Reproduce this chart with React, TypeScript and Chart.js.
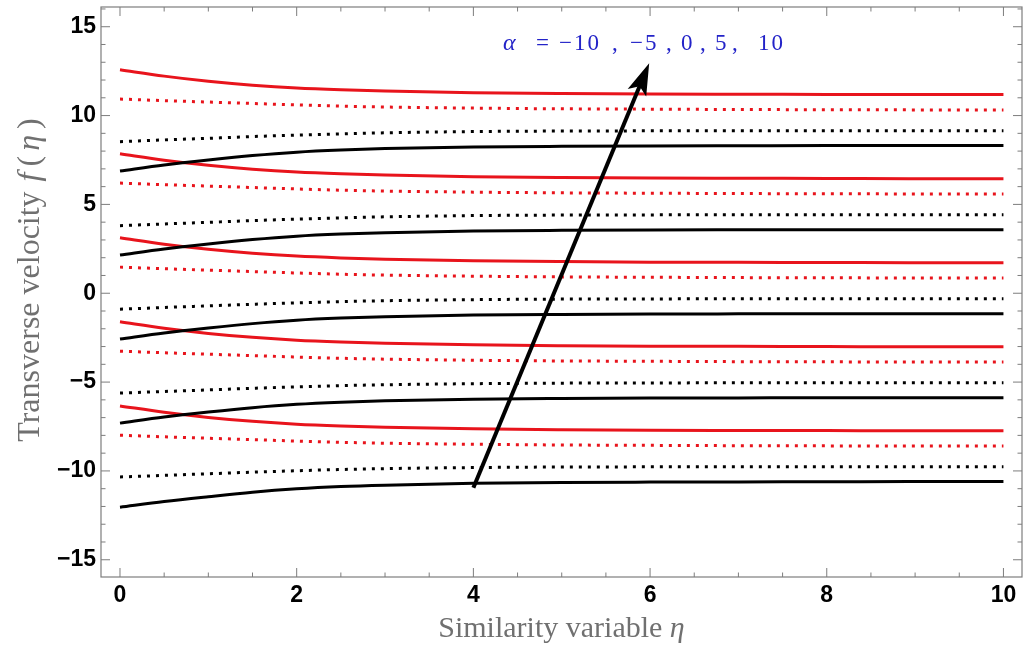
import React, { useEffect, useRef } from "react";
import { Chart, registerables } from "chart.js";

Chart.register(...registerables);

// similarity variable η sample points
const eta = [0, 0.5, 1, 1.5, 2, 2.5, 3, 4, 5, 6, 7, 8, 9, 10];

// red solid curves (α = -10 … 10, top to bottom)
const redSolid1 = [12.58, 12.22, 11.93, 11.71, 11.55, 11.45, 11.38, 11.29, 11.24, 11.21, 11.2, 11.19, 11.18, 11.18];
const redSolid2 = [7.85, 7.49, 7.2, 6.98, 6.82, 6.72, 6.65, 6.56, 6.51, 6.48, 6.47, 6.46, 6.45, 6.45];
const redSolid3 = [3.12, 2.76, 2.47, 2.25, 2.09, 1.99, 1.92, 1.83, 1.78, 1.75, 1.74, 1.73, 1.72, 1.72];
const redSolid4 = [-1.61, -1.97, -2.26, -2.48, -2.64, -2.74, -2.81, -2.9, -2.95, -2.98, -2.99, -3.0, -3.01, -3.01];
const redSolid5 = [-6.34, -6.7, -6.99, -7.21, -7.37, -7.47, -7.54, -7.63, -7.68, -7.71, -7.72, -7.73, -7.74, -7.74];

// red dotted curves
const redDot1 = [10.93, 10.84, 10.76, 10.68, 10.6, 10.53, 10.48, 10.42, 10.38, 10.36, 10.34, 10.33, 10.32, 10.32];
const redDot2 = [6.2, 6.11, 6.03, 5.95, 5.87, 5.8, 5.75, 5.69, 5.65, 5.63, 5.61, 5.6, 5.59, 5.59];
const redDot3 = [1.47, 1.38, 1.3, 1.22, 1.14, 1.07, 1.02, 0.96, 0.92, 0.9, 0.88, 0.87, 0.86, 0.86];
const redDot4 = [-3.26, -3.35, -3.43, -3.51, -3.59, -3.66, -3.71, -3.77, -3.81, -3.83, -3.85, -3.86, -3.87, -3.87];
const redDot5 = [-7.99, -8.08, -8.16, -8.24, -8.32, -8.39, -8.44, -8.5, -8.54, -8.56, -8.58, -8.59, -8.6, -8.6];

// black dotted curves
const blackDot1 = [8.53, 8.63, 8.72, 8.82, 8.9, 8.97, 9.03, 9.1, 9.13, 9.14, 9.15, 9.15, 9.15, 9.15];
const blackDot2 = [3.8, 3.9, 3.99, 4.09, 4.17, 4.24, 4.3, 4.37, 4.4, 4.41, 4.42, 4.42, 4.42, 4.42];
const blackDot3 = [-0.9, -0.8, -0.71, -0.62, -0.54, -0.47, -0.42, -0.36, -0.33, -0.32, -0.31, -0.31, -0.31, -0.31];
const blackDot4 = [-5.62, -5.53, -5.44, -5.35, -5.27, -5.2, -5.15, -5.09, -5.06, -5.05, -5.04, -5.04, -5.04, -5.04];
const blackDot5 = [-10.34, -10.25, -10.16, -10.07, -9.99, -9.92, -9.87, -9.81, -9.78, -9.77, -9.76, -9.76, -9.76, -9.76];

// black solid curves
const blackSolid1 = [6.88, 7.22, 7.5, 7.75, 7.94, 8.06, 8.14, 8.23, 8.27, 8.29, 8.3, 8.31, 8.31, 8.31];
const blackSolid2 = [2.15, 2.49, 2.77, 3.02, 3.21, 3.33, 3.41, 3.5, 3.54, 3.56, 3.57, 3.58, 3.58, 3.58];
const blackSolid3 = [-2.58, -2.24, -1.96, -1.71, -1.52, -1.4, -1.32, -1.23, -1.19, -1.17, -1.16, -1.15, -1.15, -1.15];
const blackSolid4 = [-7.31, -6.97, -6.69, -6.44, -6.25, -6.13, -6.05, -5.96, -5.92, -5.9, -5.89, -5.88, -5.88, -5.88];
const blackSolid5 = [-12.04, -11.72, -11.45, -11.2, -11.01, -10.88, -10.8, -10.7, -10.65, -10.63, -10.62, -10.61, -10.6, -10.6];

// axes
const xTickLabels = [0, 2, 4, 6, 8, 10];
const yTickLabels = [-15, -10, -5, 0, 5, 10, 15];
const xMinorStep = 0.5;
const yMinorStep = 1;
const xRange = [-0.215, 10.21];
const yRange = [-15.97, 16.11];

// annotation (data coordinates)
const arrowTail = [4.0, -10.95];
const arrowTip = [5.99, 12.95];
const labelAnchor = [4.335, 13.7];
const labelTokens = ["α", "=", "−10", ",", "−5", ",", "0", ",", "5", ",", "10"];
const labelOffsets = [0, 33, 56, 109, 127, 163, 178, 197, 212, 229, 255];

const RED = "#e8141c";
const BLACK = "#000000";

function solid(data: number[], color: string) {
  return {
    data: eta.map((x, i) => ({ x, y: data[i] })),
    borderColor: color,
    borderWidth: 3,
    pointRadius: 0,
    fill: false,
    cubicInterpolationMode: "monotone" as const,
  };
}
function dotted(data: number[], color: string) {
  return {
    ...solid(data, color),
    borderDash: [3, 6],
    borderCapStyle: "butt" as const,
  };
}

const framePlugin = {
  id: "framePlugin",
  afterDraw(chart: any) {
    const { ctx, chartArea: a, scales } = chart;
    const xs = scales.x;
    const ys = scales.y;
    ctx.save();
    ctx.strokeStyle = "#7d7d7d";
    ctx.lineWidth = 1.2;
    ctx.strokeRect(a.left, a.top, a.right - a.left, a.bottom - a.top);
    const seg = (x1: number, y1: number, x2: number, y2: number) => {
      ctx.beginPath();
      ctx.moveTo(x1, y1);
      ctx.lineTo(x2, y2);
      ctx.stroke();
    };
    ctx.lineWidth = 1;
    for (let v = Math.ceil(yRange[0]); v <= yRange[1]; v += yMinorStep) {
      const p = ys.getPixelForValue(v);
      const L = yTickLabels.includes(v) ? 9 : 4.5;
      seg(a.left, p, a.left + L, p);
      seg(a.right, p, a.right - L, p);
    }
    for (let v = 0; v <= xRange[1]; v += xMinorStep) {
      const p = xs.getPixelForValue(v);
      const L = xTickLabels.includes(v) ? 9 : 4.5;
      seg(p, a.bottom, p, a.bottom - L);
      seg(p, a.top, p, a.top + L);
    }

    // arrow
    const tx = xs.getPixelForValue(arrowTail[0]);
    const ty = ys.getPixelForValue(arrowTail[1]);
    const hx = xs.getPixelForValue(arrowTip[0]);
    const hy = ys.getPixelForValue(arrowTip[1]);
    const ang = Math.atan2(hy - ty, hx - tx);
    const headLen = 32;
    const headHalf = 10;
    const bx = hx - Math.cos(ang) * headLen;
    const by = hy - Math.sin(ang) * headLen;
    ctx.strokeStyle = "#000";
    ctx.lineWidth = 4;
    ctx.lineCap = "butt";
    seg(tx, ty, bx + Math.cos(ang) * 8, by + Math.sin(ang) * 8);
    const nx = -Math.sin(ang);
    const ny = Math.cos(ang);
    ctx.fillStyle = "#000";
    ctx.beginPath();
    ctx.moveTo(hx, hy);
    ctx.lineTo(bx + nx * headHalf, by + ny * headHalf);
    ctx.lineTo(bx + Math.cos(ang) * 7, by + Math.sin(ang) * 7);
    ctx.lineTo(bx - nx * headHalf, by - ny * headHalf);
    ctx.closePath();
    ctx.fill();

    // label
    const lx = xs.getPixelForValue(labelAnchor[0]);
    const ly = ys.getPixelForValue(labelAnchor[1]);
    ctx.fillStyle = "#2323c8";
    ctx.textBaseline = "alphabetic";
    ctx.textAlign = "left";
    (ctx as any).letterSpacing = "2px";
    labelTokens.forEach((t, i) => {
      ctx.font = i === 0 ? "italic 24px 'Liberation Serif'" : "23px 'Liberation Serif'";
      ctx.fillText(t, lx + labelOffsets[i], ly);
    });
    (ctx as any).letterSpacing = "0px";

    // axis titles
    ctx.fillStyle = "#707070";
    const xt = ["Similarity variable ", "η"];
    ctx.font = "30px 'Liberation Serif'";
    const w1 = ctx.measureText(xt[0]).width;
    ctx.font = "italic 30px 'Liberation Serif'";
    const w2 = ctx.measureText(xt[1]).width;
    const cx = (a.left + a.right) / 2;
    const sx = cx - (w1 + w2) / 2;
    ctx.font = "30px 'Liberation Serif'";
    ctx.fillText(xt[0], sx, 637);
    ctx.font = "italic 30px 'Liberation Serif'";
    ctx.fillText(xt[1], sx + w1, 637);

    const yt = ["Transverse velocity ", "f", "(", "η", ")"];
    const ital = [false, true, false, true, false];
    const gaps = [2, 6, 5, 6, 0];
    const widths = yt.map((t, i) => {
      ctx.font = (ital[i] ? "italic " : "") + "32px 'Liberation Serif'";
      return ctx.measureText(t).width + gaps[i];
    });
    const total = widths.reduce((s, w) => s + w, 0);
    ctx.save();
    ctx.translate(39, 280);
    ctx.rotate(-Math.PI / 2);
    let px = -total / 2;
    yt.forEach((t, i) => {
      ctx.font = (ital[i] ? "italic " : "") + "32px 'Liberation Serif'";
      ctx.fillText(t, px, 0);
      px += widths[i];
    });
    ctx.restore();
    ctx.restore();
  },
};

export default function App() {
  const ref = useRef<HTMLCanvasElement>(null);
  useEffect(() => {
    if (!ref.current) return;
    const groups = [
      [redSolid1, redDot1, blackDot1, blackSolid1],
      [redSolid2, redDot2, blackDot2, blackSolid2],
      [redSolid3, redDot3, blackDot3, blackSolid3],
      [redSolid4, redDot4, blackDot4, blackSolid4],
      [redSolid5, redDot5, blackDot5, blackSolid5],
    ];
    const datasets: any[] = [];
    groups.forEach((g) => {
      datasets.push(dotted(g[1], RED));
      datasets.push(dotted(g[2], BLACK));
    });
    groups.forEach((g) => {
      datasets.push(solid(g[0], RED));
      datasets.push(solid(g[3], BLACK));
    });
    const chart = new Chart(ref.current, {
      type: "line",
      data: { datasets },
      plugins: [framePlugin],
      options: {
        animation: false,
        responsive: true,
        maintainAspectRatio: false,
        layout: { padding: { top: 7, right: 10, left: 0, bottom: 0 } },
        plugins: { legend: { display: false }, tooltip: { enabled: false } },
        scales: {
          x: {
            type: "linear",
            min: xRange[0],
            max: xRange[1],
            grid: { display: false, drawTicks: false },
            border: { display: false },
            afterFit: (s: any) => {
              s.height = 73;
              s.paddingLeft = 0;
              s.paddingRight = 0;
            },
            afterBuildTicks: (s: any) => {
              s.ticks = xTickLabels.map((v) => ({ value: v }));
            },
            ticks: {
              autoSkip: false,
              maxRotation: 0,
              padding: 5,
              color: "#000",
              font: { family: "'Liberation Sans', Arial", size: 23, weight: "bold" },
            },
          },
          y: {
            type: "linear",
            min: yRange[0],
            max: yRange[1],
            grid: { display: false, drawTicks: false },
            border: { display: false },
            afterFit: (s: any) => {
              s.width = 101;
              s.paddingTop = 0;
              s.paddingBottom = 0;
            },
            afterBuildTicks: (s: any) => {
              s.ticks = yTickLabels.map((v) => ({ value: v }));
            },
            ticks: {
              autoSkip: false,
              padding: 5,
              color: "#000",
              font: { family: "'Liberation Sans', Arial", size: 23, weight: "bold" },
              callback: (v: any) => (Number(v) < 0 ? "−" + Math.abs(Number(v)) : String(v)),
            },
          },
        },
      },
    });
    return () => chart.destroy();
  }, []);
  return (
    <div style={{ position: "absolute", left: 0, top: 0, width: 1032, height: 650, background: "#fff" }}>
      <canvas ref={ref} />
    </div>
  );
}
